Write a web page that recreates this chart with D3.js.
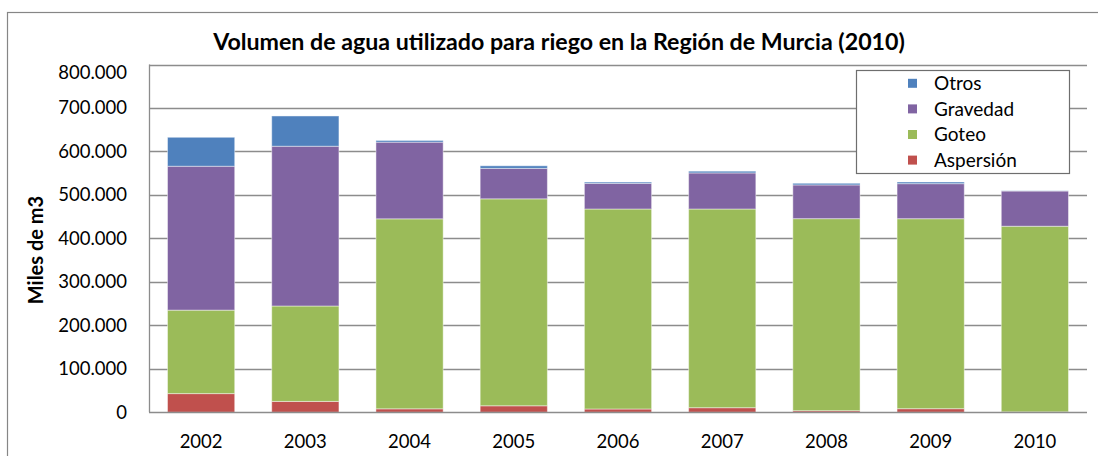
<!DOCTYPE html>
<html><head><meta charset="utf-8">
<script src="https://cdn.jsdelivr.net/npm/d3@7"></script>
<style>
html,body{margin:0;padding:0;background:#fff;}
svg{display:block;font-family:Lato, "Liberation Sans", sans-serif;}
</style></head>
<body>
<svg id="chart" width="1098" height="456"></svg>
<script>
const years = ["2002","2003","2004","2005","2006","2007","2008","2009","2010"];
const aspersion = [43000, 25000, 8000, 15000, 7600, 10600, 3700, 8300, 1000];
const goteo     = [192000, 219500, 437000, 476000, 460000, 457000, 441700, 437000, 427000];
const gravedad  = [331000, 367500, 176400, 70000, 59000, 83000, 77600, 80600, 81000];
const otros     = [66600, 69600, 3900, 6000, 3000, 4000, 3800, 3800, 500];
const seriesNames = ["Aspersión","Goteo","Gravedad","Otros"];
const seriesColors = ["#C0504D","#9BBB59","#8064A2","#4F81BD"];
const yTicks = [0,100000,200000,300000,400000,500000,600000,700000,800000];
const title = "Volumen de agua utilizado para riego en la Región de Murcia (2010)";
const yTitle = "Miles de m3";

const svg = d3.select("#chart");
const M = {left:149, right:1087, top:64.5, bottom:412.3};

const rows = years.map((y,i)=>({year:y, "Aspersión":aspersion[i], "Goteo":goteo[i], "Gravedad":gravedad[i], "Otros":otros[i]}));
const stack = d3.stack().keys(seriesNames)(rows);

const x = d3.scaleBand().domain(years).range([M.left, M.right]).paddingInner(0.355).paddingOuter(0.1775);
const y = d3.scaleLinear().domain([0,800000]).range([M.bottom, M.top]);
const loc = d3.formatLocale({decimal:",", thousands:".", grouping:[3], currency:["","€"]});
const fmt = loc.format(",d");

// outer border
svg.append("rect").attr("x",7.5).attr("y",12.5).attr("width",1200).attr("height",600)
  .attr("fill","none").attr("stroke","#868686").attr("stroke-width",1.2);

// gridlines
svg.append("g").selectAll("line").data(yTicks.filter(d=>d>0)).join("line")
  .attr("x1",M.left).attr("x2",M.right)
  .attr("y1",d=>Math.round(y(d))+0.5).attr("y2",d=>Math.round(y(d))+0.5)
  .attr("stroke","#8c8c8c").attr("stroke-width",1.3);

// bars
svg.append("g").selectAll("g").data(stack).join("g")
  .attr("fill",(d,i)=>seriesColors[i])
  .selectAll("rect").data(d=>d).join("rect")
  .attr("x",d=>x(d.data.year)).attr("width",x.bandwidth())
  .attr("y",d=>y(d[1])).attr("height",d=>Math.max(0,y(d[0])-y(d[1])))
  .attr("stroke","rgba(255,255,255,0.45)").attr("stroke-width",1);

// axes lines
svg.append("line").attr("x1",M.left+0.5).attr("x2",M.left+0.5).attr("y1",M.top).attr("y2",M.bottom)
  .attr("stroke","#8c8c8c").attr("stroke-width",1.3);
svg.append("line").attr("x1",M.left).attr("x2",M.right).attr("y1",Math.round(M.bottom)+0.5).attr("y2",Math.round(M.bottom)+0.5)
  .attr("stroke","#8c8c8c").attr("stroke-width",1.3);

// y tick labels
svg.append("g").selectAll("text").data(yTicks).join("text")
  .attr("x",127).attr("y",d=>y(d) + (d===800000?8:0)).attr("dy","0.35em")
  .attr("text-anchor","end").attr("font-size",18.5).attr("fill","#000")
  .text(d=>fmt(d));

// x tick labels
svg.append("g").selectAll("text").data(years).join("text")
  .attr("x",d=>x(d)+x.bandwidth()/2).attr("y",448)
  .attr("text-anchor","middle").attr("font-size",18.5).attr("fill","#000")
  .text(d=>d);

// title
svg.append("text").attr("x",559).attr("y",50).attr("text-anchor","middle")
  .attr("font-size",23.2).attr("font-weight","bold").text(title);

// y title
svg.append("text").attr("transform","translate(43,250) rotate(-90)").attr("text-anchor","middle")
  .attr("font-size",20).attr("font-weight","bold").text(yTitle);

// legend
const lg = svg.append("g");
lg.append("rect").attr("x",856.5).attr("y",70.5).attr("width",213).attr("height",103)
  .attr("fill","#fff").attr("stroke","#6e6e6e").attr("stroke-width",1.2);
const legendOrder = [3,2,1,0];
legendOrder.forEach((si,k)=>{
  const cy = 83.3 + k*25.6;
  lg.append("rect").attr("x",908).attr("y",cy-4.5).attr("width",9).attr("height",9).attr("fill",seriesColors[si]);
  lg.append("text").attr("x",934).attr("y",cy).attr("dy","0.35em").attr("font-size",19).text(seriesNames[si]);
});
</script>
</body></html>
